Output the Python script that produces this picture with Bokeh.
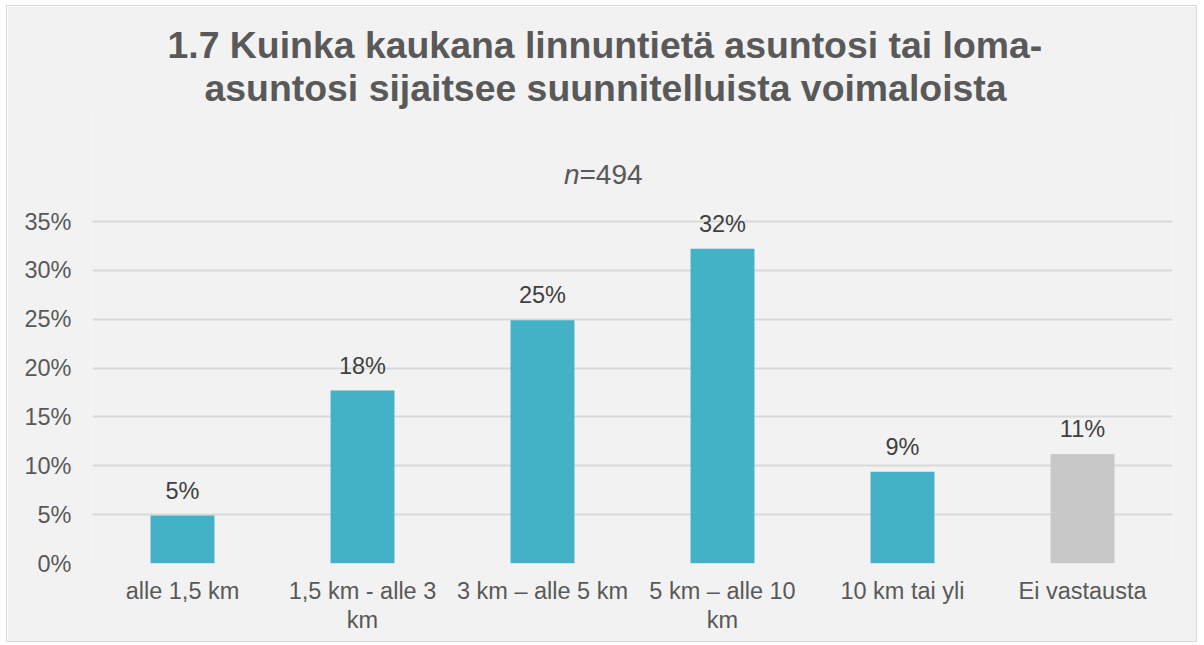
import json
from bokeh.plotting import figure
from bokeh.models import (ColumnDataSource, FactorRange, Range1d, FixedTicker,
                          PrintfTickFormatter, Title, CategoricalAxis,
                          CustomJSTickFormatter)
from bokeh.core.properties import value
from bokeh.embed import file_html
from bokeh.resources import INLINE

# ---- data ----
categories = ["alle 1,5 km", "1,5 km - alle 3 km", "3 km – alle 5 km",
              "5 km – alle 10 km", "10 km tai yli", "Ei vastausta"]
shares = [4.9, 17.7, 24.9, 32.2, 9.4, 11.2]
bar_colors = ["#43B1C6", "#43B1C6", "#43B1C6", "#43B1C6", "#43B1C6", "#C8C8C8"]
y_ticks = [0, 5, 10, 15, 20, 25, 30, 35]
title_lines = ["1.7 Kuinka kaukana linnuntietä asuntosi tai loma-",
               "asuntosi sijaitsee suunnitelluista voimaloista"]
n_symbol = "n"
n_value = "=494"
label_line1 = {"1,5 km - alle 3 km": "1,5 km - alle 3",
               "5 km – alle 10 km": "5 km – alle 10"}
label_line2 = {"1,5 km - alle 3 km": "km",
               "5 km – alle 10 km": "km"}

FONT = "Liberation Sans"
BG = "#F2F2F2"
TICK_COLOR = "#595959"
TITLE_COLOR = "#595959"

src = ColumnDataSource(dict(
    cat=categories,
    val=shares,
    color=bar_colors,
    lab=[f"{round(v)}%" for v in shares],
))

# y range extends above the top tick so the sample-size note and the top
# value label sit inside the (borderless) plot area
p = figure(x_range=FactorRange(factors=categories), y_range=Range1d(0, 46.36),
           width=1191, height=637, output_backend="svg", toolbar_location=None,
           min_border_left=85, min_border_right=26, min_border_top=104,
           min_border_bottom=80)
p.title.visible = False
p.background_fill_color = BG
p.border_fill_color = BG
p.outline_line_color = None
p.styles = {"border": "1px solid #D9D9D9", "margin-left": "6px", "margin-top": "5px"}

p.vbar(x="cat", top="val", width=0.355, source=src, fill_color="color",
       line_color=None)

p.text(x="cat", y="val", text="lab", source=src, y_offset=-25,
       text_align="center", text_baseline="alphabetic",
       text_font=value(FONT), text_font_size="23.5px", text_color="#404040")

# sample size note: italic "n" followed by "=494"
p.text(x=[categories[3]], y=[y_ticks[-1]], text=[n_symbol], x_offset=-143, y_offset=-47,
       text_align="right", text_baseline="alphabetic", text_font=value(FONT),
       text_font_size="28px", text_font_style="italic", text_color=TITLE_COLOR)
p.text(x=[categories[3]], y=[y_ticks[-1]], text=[n_value], x_offset=-143, y_offset=-47,
       text_align="left", text_baseline="alphabetic", text_font=value(FONT),
       text_font_size="28px", text_color=TITLE_COLOR)

# grid
p.xgrid.grid_line_color = None
p.ygrid.grid_line_color = "#D9D9D9"
p.ygrid.grid_line_width = 2
p.yaxis.ticker = FixedTicker(ticks=y_ticks)
p.yaxis.formatter = PrintfTickFormatter(format="%d%%")

# second x axis carries the wrapped second lines of long category labels
x2 = CategoricalAxis()
p.add_layout(x2, "below")


def style_axis(ax):
    ax.axis_line_color = None
    ax.major_tick_line_color = None
    ax.minor_tick_line_color = None
    ax.major_tick_out = 0
    ax.major_tick_in = 0
    ax.major_label_text_font = FONT
    ax.major_label_text_font_size = "23.5px"
    ax.major_label_text_color = TICK_COLOR


for ax in (p.xaxis[0], p.yaxis[0], x2):
    style_axis(ax)

p.yaxis.major_label_standoff = 21
p.xaxis[0].major_label_standoff = 14
p.xaxis[0].formatter = CustomJSTickFormatter(
    code=f"const m = {json.dumps(label_line1)}; return (tick in m) ? m[tick] : tick;")
x2.major_label_standoff = 0
x2.formatter = CustomJSTickFormatter(
    code=f"const m = {json.dumps(label_line2)}; return (tick in m) ? m[tick] : ' ';")

# two-line title, stacked outward from the plot area
p.add_layout(Title(text=title_lines[1], align="left", offset=112, standoff=3,
                   text_font=FONT, text_font_size="37.4px", text_font_style="bold",
                   text_color=TITLE_COLOR), "above")
p.add_layout(Title(text=title_lines[0], align="left", offset=75, standoff=-4.6,
                   text_font=FONT, text_font_size="37.4px", text_font_style="bold",
                   text_color=TITLE_COLOR), "above")

open("out.html", "w").write(file_html(p, INLINE))
